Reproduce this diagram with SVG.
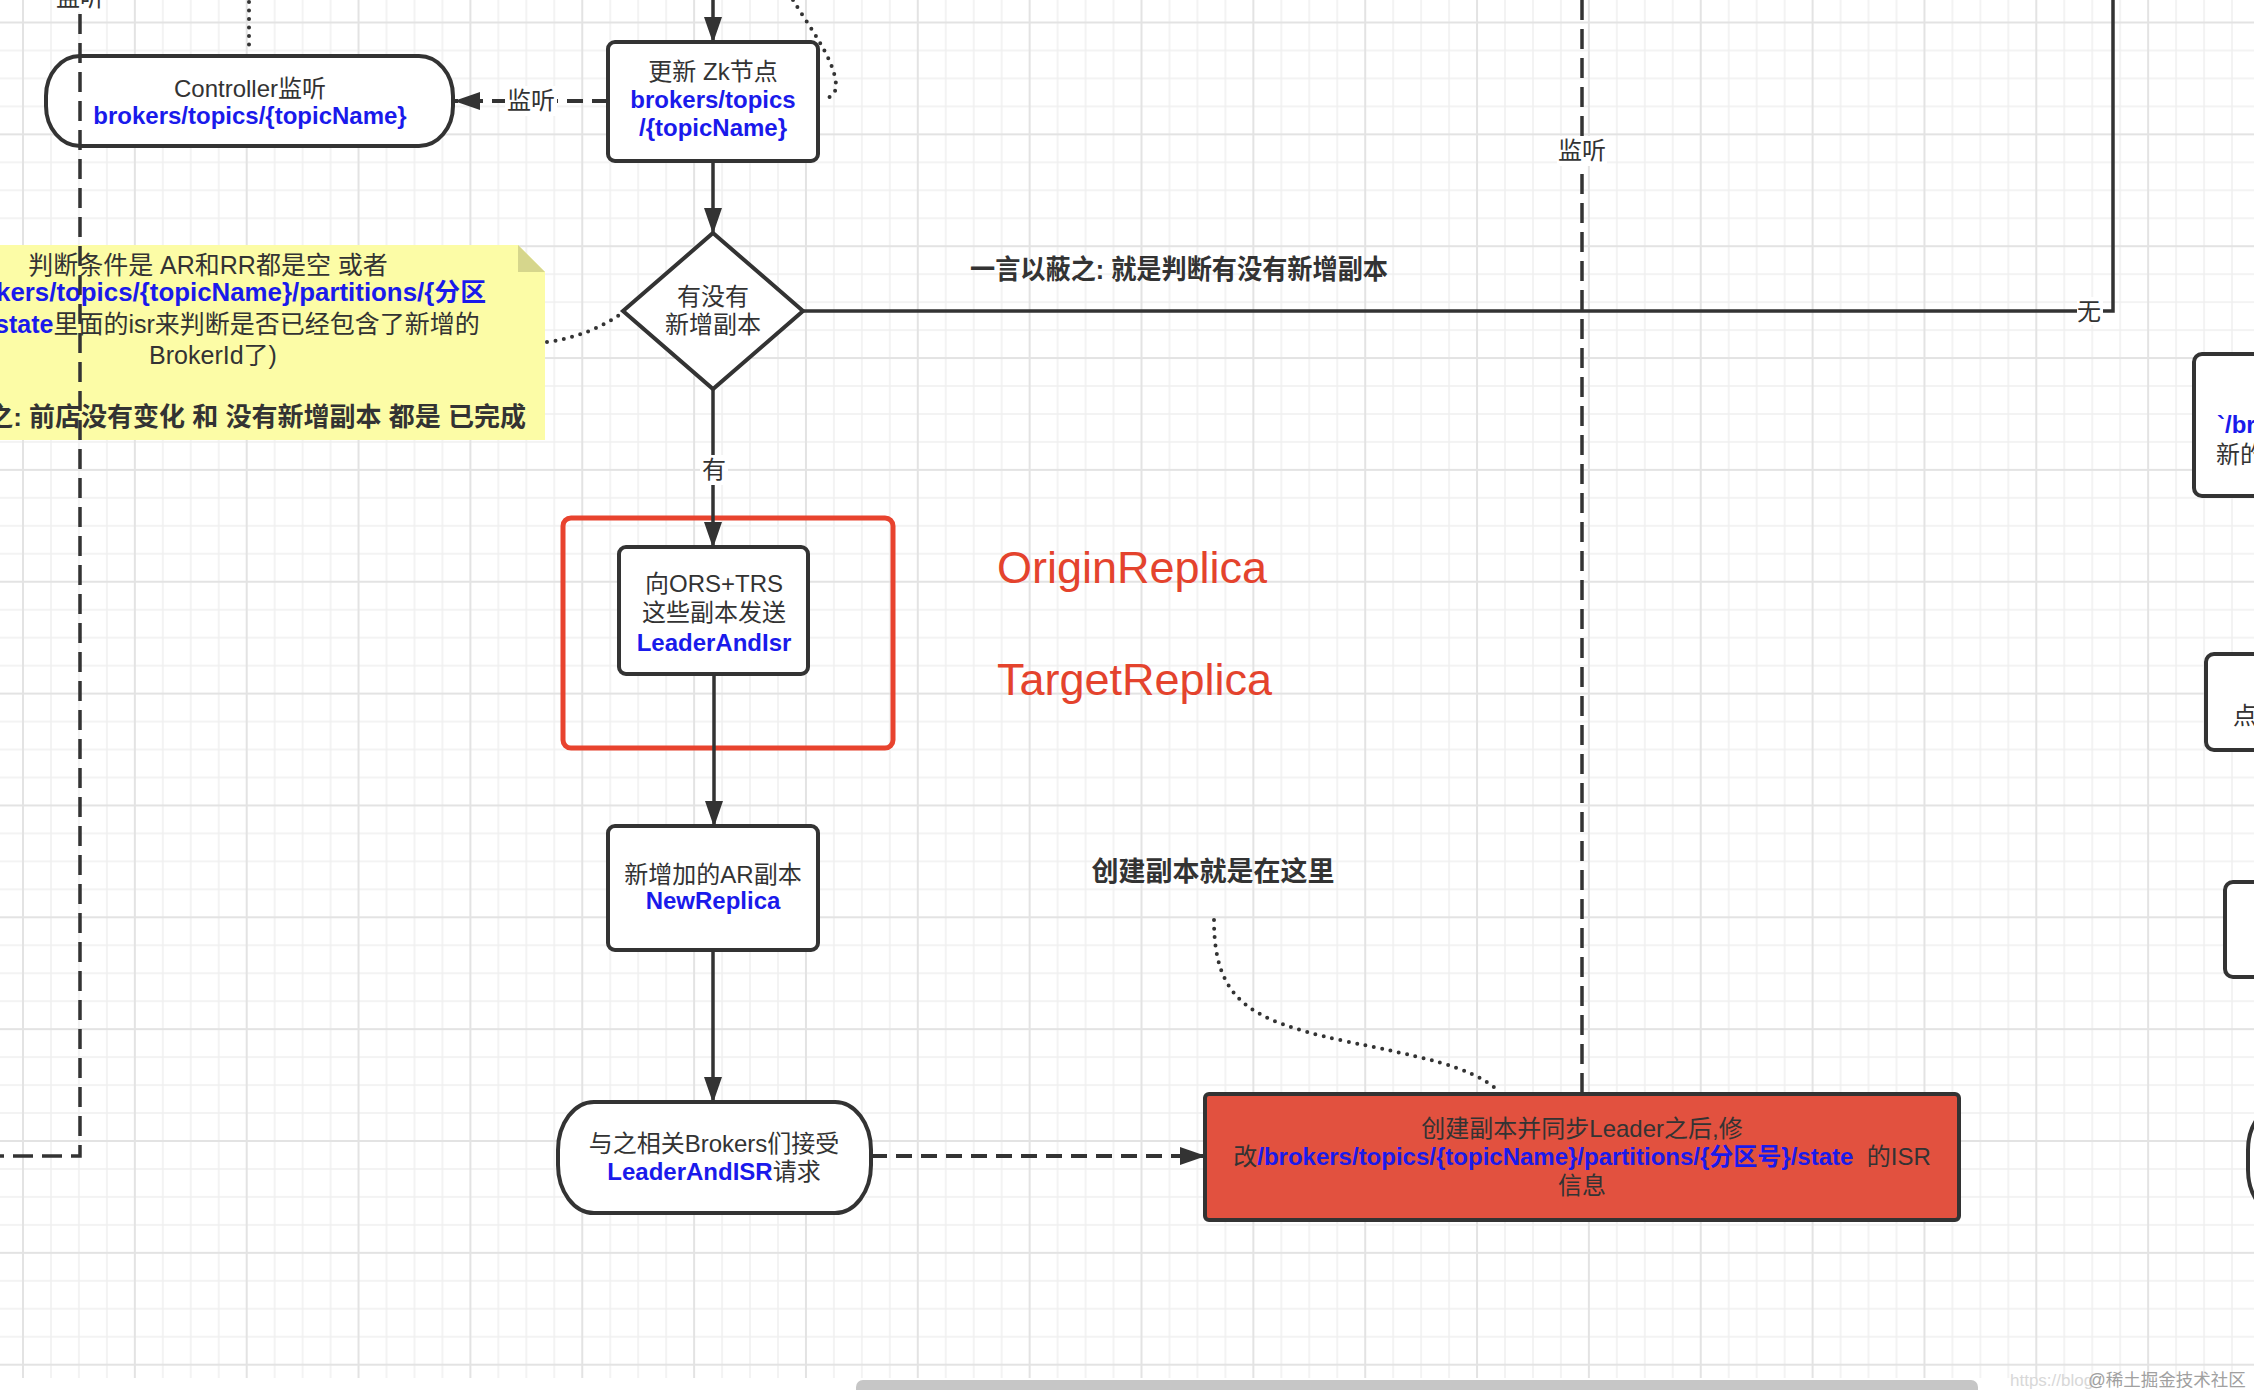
<svg xmlns="http://www.w3.org/2000/svg" width="2254" height="1390" viewBox="0 0 2254 1390">
<defs>
<pattern id="grid" patternUnits="userSpaceOnUse" x="-32.925" y="-33.425" width="111.85" height="111.85">
<path d="M0 0V111.85M27.96 0V111.85M83.89 0V111.85M111.85 0V111.85M0 0H111.85M0 27.96H111.85M0 83.89H111.85M0 111.85H111.85" stroke="#efefef" stroke-width="1.5" fill="none"/>
<path d="M55.925 0V111.85M0 55.925H111.85" stroke="#e3e3e3" stroke-width="2" fill="none"/>
</pattern>
<marker id="arr" markerUnits="userSpaceOnUse" markerWidth="26" markerHeight="18" refX="25" refY="9" orient="auto">
<path d="M0 0L26 9L0 18z" fill="#333"/>
</marker>
<style>
text{font-family:"Liberation Sans","Noto Sans CJK SC",sans-serif;fill:#333}
.t{font-size:24px;text-anchor:middle}
.b{fill:#1a1aeb;font-weight:bold}
.node{fill:#fff;stroke:#333;stroke-width:4}
.ln{fill:none;stroke:#333;stroke-width:3.5}
.dash{stroke-dasharray:20 9}
.dash2{stroke-width:4;stroke-dasharray:16 9}
.dot{fill:none;stroke:#333;stroke-width:4;stroke-dasharray:0 8.5;stroke-linecap:round}
.lbl{font-size:24px;text-anchor:middle}
.bold{font-weight:bold;font-size:27px}
.bg{fill:#fff}
.nt{font-size:25px}
.red{fill:#e4432d;font-size:45px}
</style>
</defs>
<rect x="0" y="0" width="2254" height="1390" fill="#fff"/>
<rect x="0" y="0" width="2254" height="1378" fill="url(#grid)"/>

<g id="controller">
<rect class="node" x="46" y="56" width="407" height="90" rx="34" ry="40"/>
<text class="t" x="250" y="97">Controller监听</text>
<text class="t b" x="250" y="124">brokers/topics/{topicName}</text>
</g>

<g id="zk-update">
<rect class="node" x="608" y="42" width="210" height="119" rx="7"/>
<text class="t" x="713" y="80">更新 Zk节点</text>
<text class="t b" x="713" y="108">brokers/topics</text>
<text class="t b" x="713" y="136">/{topicName}</text>
</g>

<g id="decision">
<path class="node" d="M713 233L803 311L713 389L623 311z"/>
<text class="t" x="713" y="305">有没有</text>
<text class="t" x="713" y="333">新增副本</text>
</g>

<g id="note">
<path d="M-125 245H518L545 272V440H-125z" fill="#fcfca6"/>
<path d="M518 245V272H545z" fill="#d6d68c"/>
<text class="nt" x="208" y="274" text-anchor="middle">判断条件是 AR和RR都是空 或者</text>
<text class="nt b" x="-4" y="301" textLength="490" lengthAdjust="spacingAndGlyphs">kers/topics/{topicName}/partitions/{分区</text>
<text class="nt" x="-5" y="333"><tspan class="b">state</tspan>里面的isr来判断是否已经包含了新增的</text>
<text class="nt" x="213" y="364" text-anchor="middle">BrokerId了)</text>
<text x="526" y="426" text-anchor="end" style="font-weight:bold;font-size:26px">之: 前店没有变化 和 没有新增副本 都是 已完成</text>
</g>

<g id="send-leaderandisr">
<rect class="node" x="619" y="547" width="189" height="127" rx="7"/>
<text class="t" x="714" y="592">向ORS+TRS</text>
<text class="t" x="714" y="621">这些副本发送</text>
<text class="t b" x="714" y="651">LeaderAndIsr</text>
</g>

<g id="highlight">
<rect x="563" y="518" width="330" height="230" rx="8" fill="none" stroke="#e8432e" stroke-width="5"/>
<text class="red" x="997" y="583">OriginReplica</text>
<text class="red" x="997" y="695">TargetReplica</text>
</g>

<g id="new-replica">
<rect class="node" x="608" y="826" width="210" height="124" rx="7"/>
<text class="t" x="713" y="883">新增加的AR副本</text>
<text class="t b" x="713" y="909">NewReplica</text>
</g>

<g id="brokers-receive">
<rect class="node" x="558" y="1102" width="313" height="111" rx="36" ry="48"/>
<text class="t" x="714" y="1152">与之相关Brokers们接受</text>
<text class="t" x="714" y="1180"><tspan class="b">LeaderAndISR</tspan>请求</text>
</g>

<g id="update-isr">
<rect x="1205" y="1094" width="754" height="126" rx="4" fill="#e2513f" stroke="#333" stroke-width="4"/>
<text class="t" x="1582" y="1137">创建副本并同步Leader之后,修</text>
<text class="t" x="1582" y="1165" xml:space="preserve">改<tspan class="b">/brokers/topics/{topicName}/partitions/{分区号}/state</tspan>  的ISR</text>
<text class="t" x="1582" y="1194">信息</text>
</g>

<g id="labels">
<text class="bold" x="970" y="279" textLength="418" lengthAdjust="spacingAndGlyphs">一言以蔽之: 就是判断有没有新增副本</text>
<text class="bold" x="1213" y="881" text-anchor="middle">创建副本就是在这里</text>
</g>

<g id="right-nodes">
<rect class="node" x="2194" y="354" width="200" height="142" rx="8"/>
<text x="2217" y="433" style="font-size:24px;font-weight:bold;fill:#1a1aeb">`/br</text>
<text x="2216" y="463" style="font-size:24px">新的</text>
<rect class="node" x="2206" y="654" width="200" height="96" rx="8"/>
<text x="2233" y="724" style="font-size:24px">点</text>
<rect class="node" x="2225" y="882" width="200" height="95" rx="8"/>
<rect class="node" x="2248" y="1105" width="200" height="110" rx="33" ry="45"/>
</g>

<g id="connectors">
<path class="ln" d="M713 0V42" marker-end="url(#arr)"/>
<path class="ln" d="M713 161V233" marker-end="url(#arr)"/>
<path class="ln" d="M713 389V547" marker-end="url(#arr)"/>
<path class="ln" d="M714 674V826" marker-end="url(#arr)"/>
<path class="ln" d="M713 950V1102" marker-end="url(#arr)"/>
<path class="ln" d="M803 311H2113V0"/>
<path class="ln dash2" d="M608 101H455" marker-end="url(#arr)"/>
<path class="ln dash2" d="M871 1156H1205" marker-end="url(#arr)"/>
<path class="ln dash" d="M1582 0V1093"/>
<path class="ln dash" d="M80 14V1156H0"/>
<path class="dot" d="M249 2V52"/>
<path class="dot" d="M793 0C810 28 835 60 836 85C836 95 830 98 822 99"/>
<path class="dot" d="M547 342Q590 336 622 313"/>
<path class="dot" d="M1214 920C1214 1000 1250 1020 1340 1040C1420 1057 1470 1065 1500 1092"/>
<rect class="bg" x="505" y="86" width="52" height="30"/>
<text class="lbl" x="531" y="109">监听</text>
<rect class="bg" x="700" y="455" width="28" height="30"/>
<text class="lbl" x="714" y="478">有</text>
<rect class="bg" x="2077" y="297" width="26" height="28"/>
<text class="lbl" x="2089" y="320">无</text>
<rect class="bg" x="1557" y="136" width="50" height="30"/>
<text class="lbl" x="1582" y="159">监听</text>
<rect class="bg" x="56" y="-20" width="48" height="32"/>
<text class="lbl" x="80" y="6">监听</text>
</g>

<rect x="856" y="1380" width="1122" height="16" rx="7" fill="#c6c6c6"/>
<text x="2010" y="1386" style="font-size:17px;fill:#d8d8d8">https://blog</text>
<text x="2088" y="1386" style="font-size:17.5px;fill:#a0a0a0">@稀土掘金技术社区</text>
</svg>
